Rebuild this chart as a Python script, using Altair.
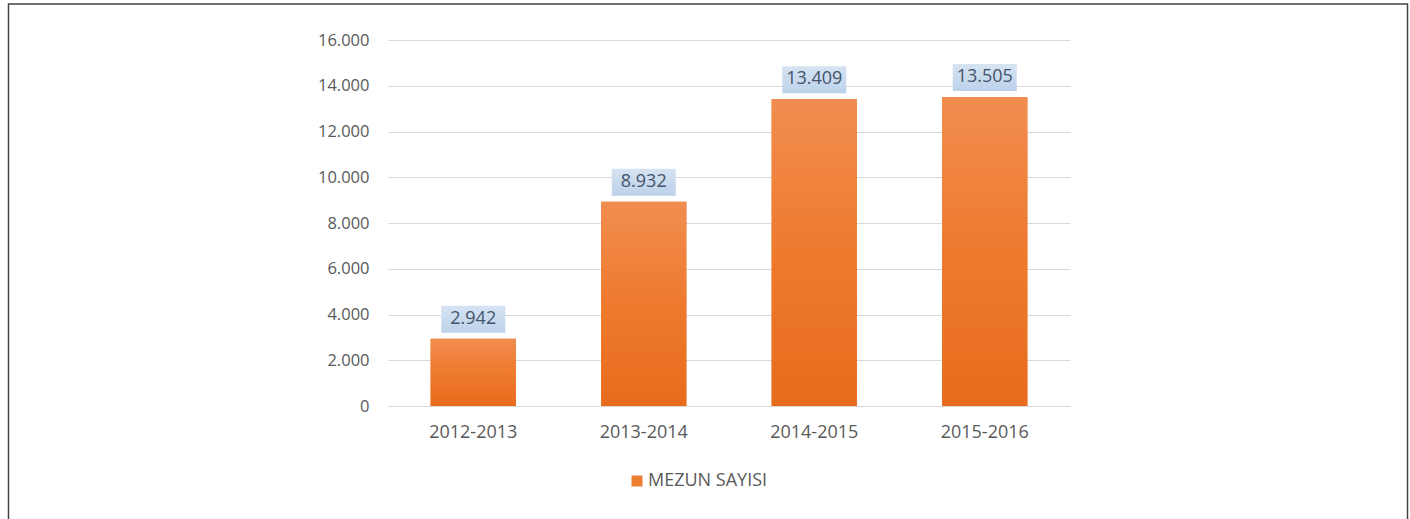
import altair as alt
import pandas as pd

years = ["2012-2013", "2013-2014", "2014-2015", "2015-2016"]
values = [2942, 8932, 13409, 13505]
series = ["MEZUN SAYISI"] * 4
y_ticks = [0, 2000, 4000, 6000, 8000, 10000, 12000, 14000, 16000]

df = pd.DataFrame({"year": years, "value": values, "series": series})

FONT = "Open Sans"
W, H = 682, 366
PL, PT = 388, 40

x_enc = alt.X("year:N", sort=years, title=None,
              scale=alt.Scale(paddingInner=0.5, paddingOuter=0.25),
              axis=alt.Axis(labelAngle=0, labelFont=FONT, labelFontSize=18,
                            labelColor="#595959", labelPadding=17, ticks=False,
                            domain=False, grid=False))
y_enc = alt.Y("value:Q", title=None,
              scale=alt.Scale(domain=[0, 16000], nice=False),
              axis=alt.Axis(values=y_ticks, labelFont=FONT, labelFontSize=16.5,
                            labelColor="#595959", labelPadding=19, ticks=False,
                            domain=False, gridColor="#d9d9d9", gridWidth=1,
                            labelExpr="replace(format(datum.value, ','), ',', '.')"))

base = alt.Chart(df)

legend_layer = base.mark_bar().encode(
    x=x_enc, y=y_enc,
    color=alt.Color("series:N", title=None,
                    scale=alt.Scale(range=["#ed7d31"]),
                    legend=alt.Legend(orient="none", legendX=240, legendY=432,
                                      symbolType="square", symbolSize=120,
                                      symbolStrokeWidth=0,
                                      labelFont=FONT, labelFontSize=18,
                                      labelColor="#595959", labelOffset=2)),
)

bars = base.mark_bar(
    color=alt.Gradient(gradient="linear", x1=0, x2=0, y1=0, y2=1,
                       stops=[alt.GradientStop(color="#f18d50", offset=0),
                              alt.GradientStop(color="#ee7a2e", offset=0.5),
                              alt.GradientStop(color="#e86b1c", offset=1)])
).encode(x=x_enc, y=y_enc)

boxes = base.mark_bar(
    width=64, yOffset=-6, y2Offset=-33,
    color=alt.Gradient(gradient="linear", x1=0, x2=0, y1=0, y2=1,
                       stops=[alt.GradientStop(color="#d6e3f2", offset=0),
                              alt.GradientStop(color="#bcd2ea", offset=1)])
).encode(x=x_enc, y=y_enc, y2="value:Q")

labels = base.transform_calculate(
    label="replace(format(datum.value, ','), ',', '.')"
).mark_text(font=FONT, fontSize=18, color="#44546a", dy=-20, baseline="middle"
).encode(x=x_enc, y=y_enc, text="label:N")

frame = alt.Chart(pd.DataFrame({"k": [0]})).mark_rect(
    fill=None, stroke="#444444", strokeWidth=1.5
).encode(x=alt.value(8.5 - PL), x2=alt.value(1407.5 - PL),
         y=alt.value(4 - PT), y2=alt.value(540 - PT))

chart = alt.layer(legend_layer, bars, boxes, labels, frame).properties(
    width=W, height=H,
    autosize=alt.AutoSizeParams(type="none"),
    padding={"left": PL, "top": PT, "right": 1410 - PL - W, "bottom": 519 - PT - H},
    background="white",
).configure_view(stroke=None)

chart.save("out.html", embed_options={"renderer": "svg", "actions": False})
